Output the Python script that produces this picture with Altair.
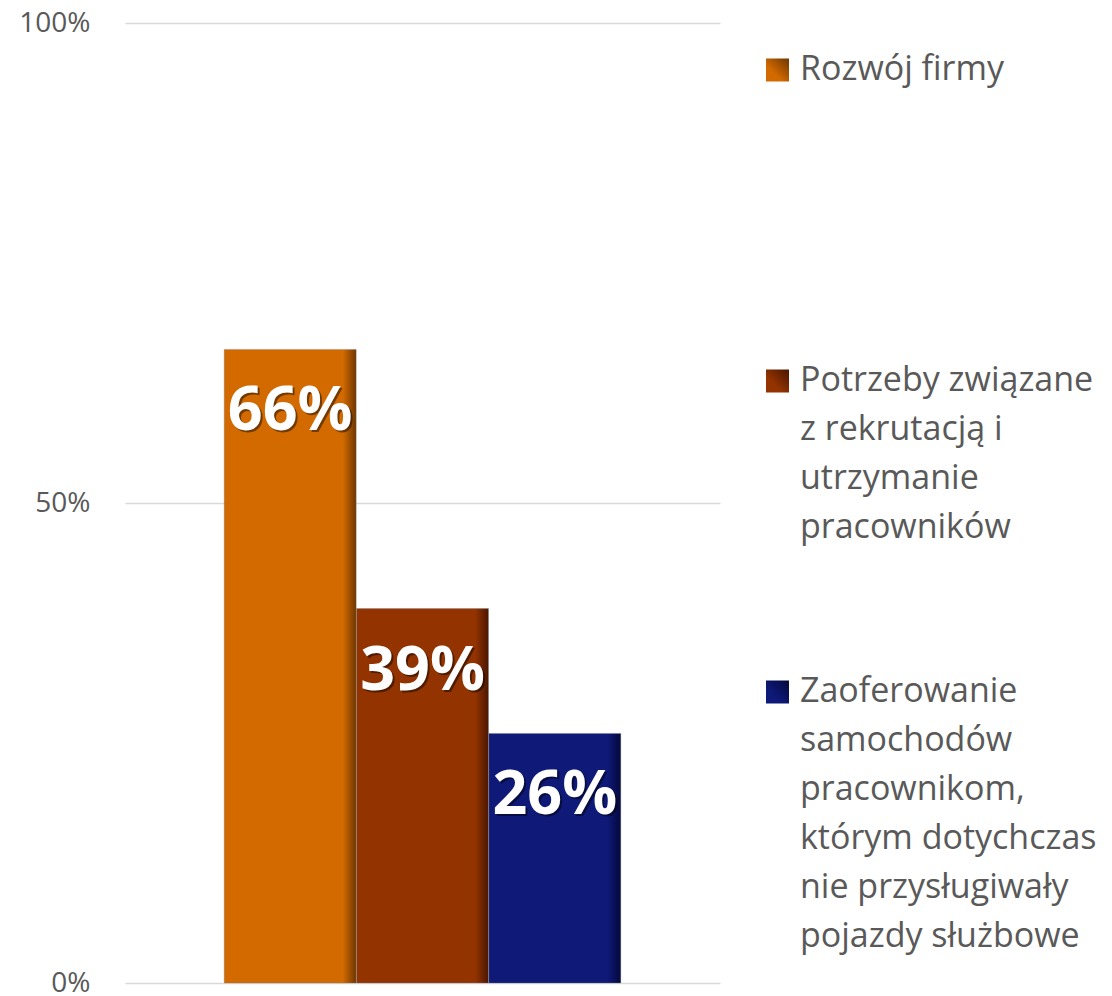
import altair as alt
import pandas as pd

# ---- data ----
series = ["Rozwój firmy",
          "Potrzeby związane z rekrutacją i utrzymanie pracowników",
          "Zaoferowanie samochodów pracownikom, którym dotychczas nie przysługiwały pojazdy służbowe"]
values = [0.66, 0.39, 0.26]
legend_lines = [
    ["Rozwój firmy"],
    ["Potrzeby związane", "z rekrutacją i", "utrzymanie", "pracowników"],
    ["Zaoferowanie", "samochodów", "pracownikom,", "którym dotychczas", "nie przysługiwały", "pojazdy służbowe"],
]
colors = ["#D26A00", "#933300", "#0E1978"]
dark = ["#6E3600", "#4A1600", "#04083A"]
y_ticks = [0, 0.5, 1]

# ---- layout constants ----
W, H = 595, 960
FONT = "Open Sans"
GRAY = "#595959"

bars = pd.DataFrame({"series": series, "value": values})

yscale = alt.Scale(domain=[0, 1], nice=False, zero=True)
yaxis = alt.Axis(values=y_ticks, format=".0%", title=None, ticks=False, domain=False,
                 labelPadding=35, labelFont=FONT, labelFontSize=28, labelColor=GRAY,
                 gridColor="#D9D9D9", gridWidth=1.5)


def Y():
    return alt.Y("value:Q", scale=yscale, axis=yaxis)


xenc = alt.X("series:N", sort=series,
             scale=alt.Scale(domain=series, paddingInner=0, paddingOuter=0.7485),
             axis=None)

layers = []
for s, c, d in zip(series, colors, dark):
    grad = alt.Gradient(gradient="linear", x1=0, x2=1, y1=0, y2=0,
                        stops=[alt.GradientStop(color=c, offset=0),
                               alt.GradientStop(color=c, offset=0.9),
                               alt.GradientStop(color=d, offset=1)])
    layers.append(
        alt.Chart(bars).transform_filter(alt.datum.series == s)
        .mark_bar(color=grad, size=132, stroke="#7F7F7F", strokeWidth=0.6, strokeOpacity=0.6)
        .encode(x=xenc, y=Y())
    )

base_text = alt.Chart(bars).transform_calculate(lbl="format(datum.value, '.0%')")
shadow = base_text.mark_text(font=FONT, fontSize=61, fontWeight="bold", color="#000000",
                             opacity=0.45, baseline="alphabetic", align="center",
                             dx=2, dy=83).encode(x=xenc, y=Y(), text="lbl:N")
labels = base_text.mark_text(font=FONT, fontSize=61, fontWeight="bold", color="white",
                             baseline="alphabetic", align="center",
                             dy=81).encode(x=xenc, y=Y(), text="lbl:N")

# ---- manual legend ----
rows = []
sq = []
for k, lines in enumerate(legend_lines):
    for j, t in enumerate(lines):
        off = 47 + 311 * k + 49 * j
        rows.append({"text": t, "value": 1 - off / H})
    sq.append({"series": series[k], "value": 1 - (47 + 311 * k) / H, "k": k})
leg_text_df = pd.DataFrame(rows)
leg_sq_df = pd.DataFrame(sq)

leg_text = alt.Chart(leg_text_df).mark_text(
    font=FONT, fontSize=34, color=GRAY, align="left", baseline="middle"
).encode(x=alt.value(675), y=Y(), text="text:N")

sq_layers = []
for k, (c, d) in enumerate(zip(colors, dark)):
    grad = alt.Gradient(gradient="linear", x1=0, x2=1, y1=1, y2=0,
                        stops=[alt.GradientStop(color=c, offset=0),
                               alt.GradientStop(color=c, offset=0.35),
                               alt.GradientStop(color=d, offset=1)])
    sq_layers.append(
        alt.Chart(leg_sq_df).transform_filter(alt.datum.k == k)
        .mark_point(shape="square", filled=True, size=529, fill=grad, opacity=1, strokeWidth=0)
        .encode(x=alt.value(652.5), y=Y())
    )

chart = alt.layer(*layers, shadow, labels, leg_text, *sq_layers).properties(
    width=W, height=H,
    autosize=alt.AutoSizeParams(type="none"),
    padding={"left": 117, "top": 15, "right": 384, "bottom": 20},
).configure_view(stroke=None)

chart.save("out.html", embed_options={"renderer": "svg", "actions": False})
